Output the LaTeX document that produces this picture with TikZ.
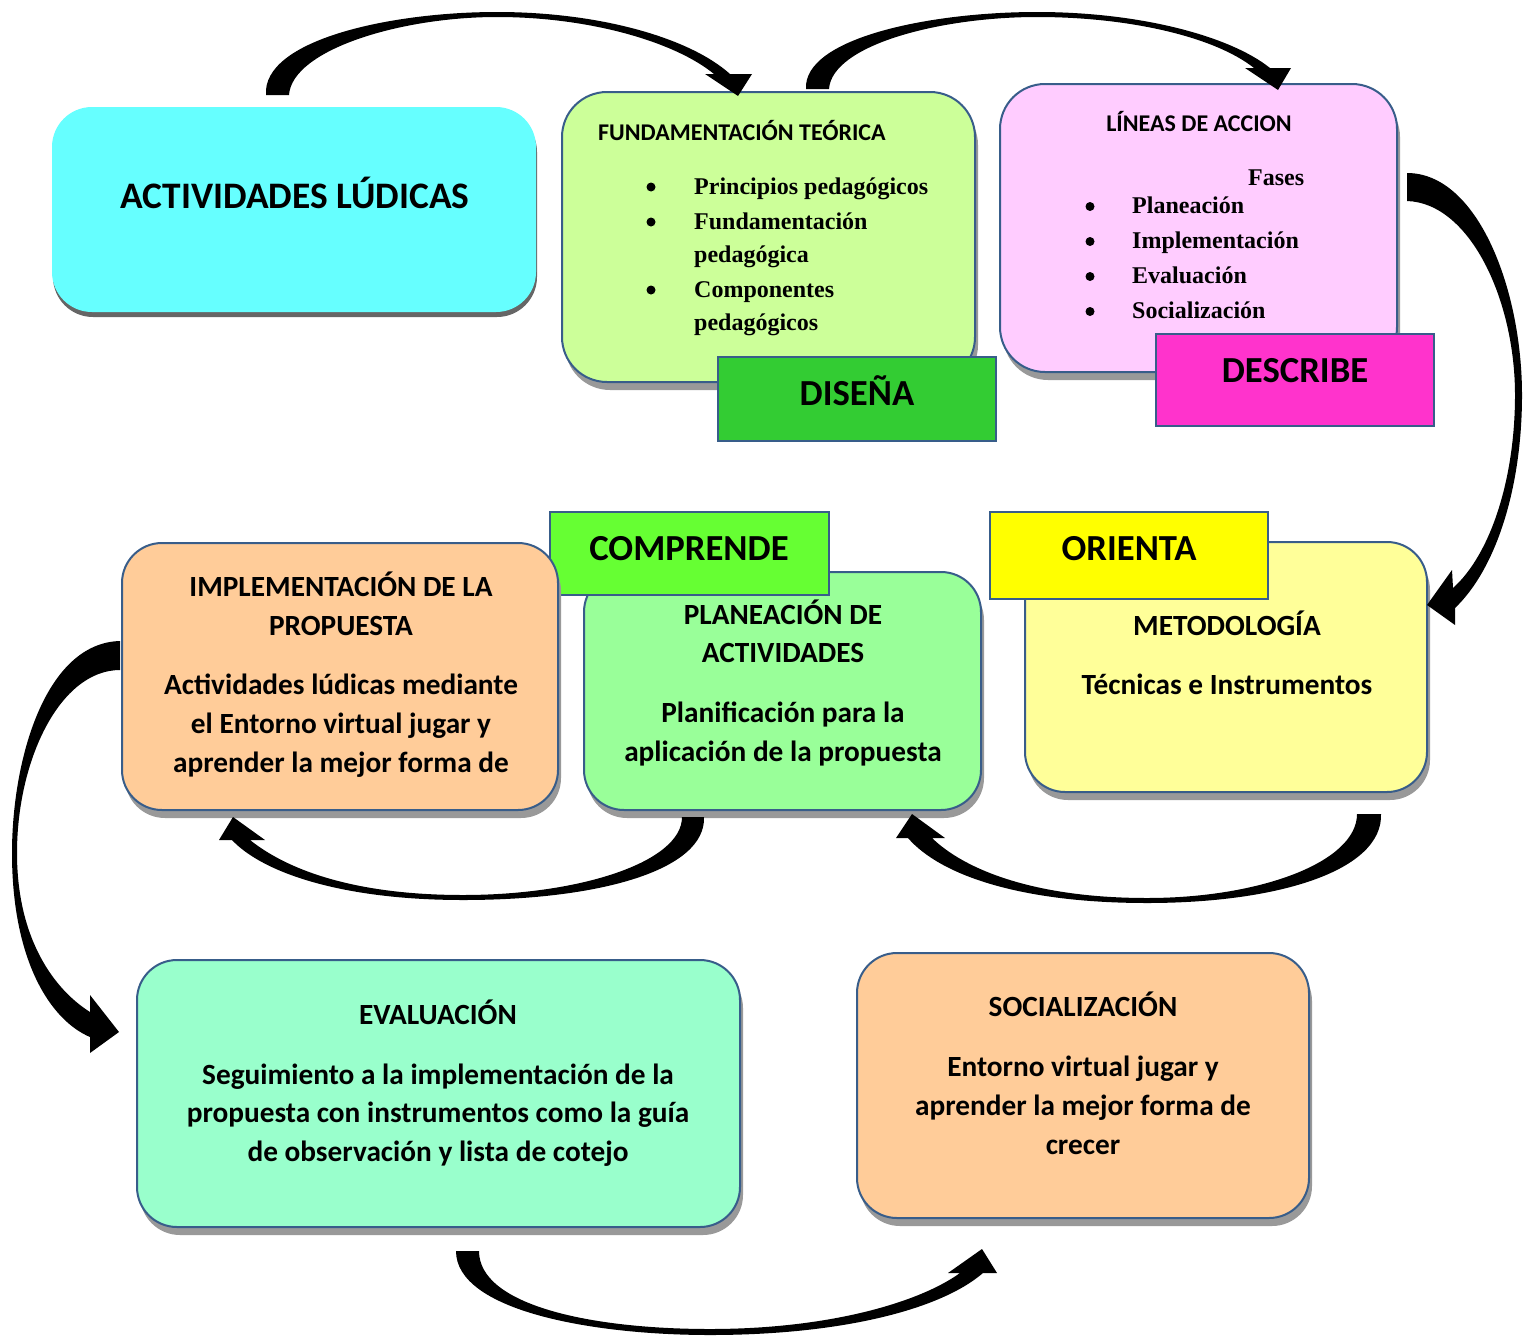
\documentclass[tikz,border=0pt]{standalone}
\usepackage{fontspec}
\setmainfont{Liberation Serif}
\newfontfamily\carl{Carlito}
\usetikzlibrary{shadows}
\definecolor{bord}{RGB}{56,93,138}
\definecolor{shadowgray}{RGB}{153,153,153}
\definecolor{cyanf}{HTML}{66FFFF}
\definecolor{fundf}{HTML}{CCFF99}
\definecolor{linf}{HTML}{FFCCFF}
\definecolor{disf}{HTML}{33CC33}
\definecolor{desf}{HTML}{FF33CC}
\definecolor{impf}{HTML}{FFCC99}
\definecolor{plaf}{HTML}{99FF99}
\definecolor{compf}{HTML}{66FF33}
\definecolor{metf}{HTML}{FFFF99}
\definecolor{orif}{HTML}{FFFF00}
\definecolor{evaf}{HTML}{99FFCC}
\definecolor{socf}{HTML}{FFCC99}
\begin{document}
\begin{tikzpicture}[x=1pt,y=-1pt,
  box/.style={draw=bord, line width=2pt, rounded corners=40pt, inner sep=0pt,
    drop shadow={shadow xshift=3pt, shadow yshift=-8pt, fill=shadowgray, opacity=1}},
  tagbox/.style={draw=bord, line width=2pt, inner sep=0pt},
  sb/.style={font=\carl\bfseries\fontsize{29.3}{35}\selectfont, anchor=base, inner sep=0pt},
  hd/.style={font=\carl\bfseries\fontsize{24}{29}\selectfont, anchor=base, inner sep=0pt},
  big/.style={font=\carl\bfseries\fontsize{36.7}{44}\selectfont, anchor=base, inner sep=0pt},
  sr/.style={font=\bfseries\fontsize{24}{29}\selectfont, anchor=base west, inner sep=0pt},
  dot/.style={circle, fill=black, draw=none, inner sep=0pt, minimum size=9pt},
  arr/.style={fill=black, draw=none}
]
\useasboundingbox (0,0) rectangle (1531,1336);

% ---------- boxes ----------
\node[rounded corners=40pt, inner sep=0pt, fill=cyanf, minimum width=484pt, minimum height=205pt,
  drop shadow={shadow xshift=1pt, shadow yshift=-5pt, fill=black!60, opacity=1}] (act) at (294,209.5) {};

\node[box, fill=fundf, rounded corners=45pt, minimum width=413pt, minimum height=290pt] (fund) at (768.5,237) {};
\node[tagbox, fill=disf, minimum width=278pt, minimum height=84pt] (dis) at (857,399) {};

\node[box, fill=linf, rounded corners=45pt, minimum width=397pt, minimum height=288pt] (lin) at (1198.5,228) {};
\node[tagbox, fill=desf, minimum width=278pt, minimum height=92pt] (des) at (1295,380) {};

\node[box, fill=plaf, minimum width=397pt, minimum height=238pt] (pla) at (782.5,691) {};
\node[tagbox, fill=compf, minimum width=279pt, minimum height=83pt] (comp) at (689.5,553.5) {};
\node[box, fill=impf, minimum width=436pt, minimum height=267pt] (imp) at (340,676.5) {};

\node[box, fill=metf, minimum width=402pt, minimum height=250pt] (met) at (1226,667) {};
\node[tagbox, fill=orif, minimum width=278pt, minimum height=87pt] (ori) at (1129,555.5) {};

\node[box, fill=evaf, minimum width=603pt, minimum height=267pt] (eva) at (438.5,1093.5) {};
\node[box, fill=socf, minimum width=452pt, minimum height=265pt] (soc) at (1083,1085.5) {};

% ---------- texts ----------
\node[big, font=\carl\bfseries\fontsize{37.4}{44}\selectfont] (t-act) at (295,208) {ACTIVIDADES LÚDICAS};

\node[hd, anchor=base west] (t-fund) at (598,140) {FUNDAMENTACIÓN TEÓRICA};
\node[dot] (fb1) at (651,187) {};
\node[dot] (fb2) at (651,222) {};
\node[dot] (fb3) at (651,290) {};
\node[sr] (fi1) at (694,194) {Principios pedagógicos};
\node[sr] (fi2) at (694,229) {Fundamentación};
\node[sr] (fi2b) at (694,262) {pedagógica};
\node[sr] (fi3) at (694,297) {Componentes};
\node[sr] (fi3b) at (694,330) {pedagógicos};

\node[hd] (t-lin) at (1199,131) {LÍNEAS DE ACCION};
\node[sr] (fases) at (1248,185) {Fases};
\node[dot] (lb1) at (1090,206.5) {};
\node[dot] (lb2) at (1090,241.5) {};
\node[dot] (lb3) at (1090,276.5) {};
\node[dot] (lb4) at (1090,311.5) {};
\node[sr] (li1) at (1132,213) {Planeación};
\node[sr] (li2) at (1132,248) {Implementación};
\node[sr] (li3) at (1132,283) {Evaluación};
\node[sr] (li4) at (1132,318) {Socialización};

\node[big] (t-dis) at (857,405) {DISEÑA};
\node[big] (t-des) at (1295,382) {DESCRIBE};
\node[big] (t-comp) at (689,560) {COMPRENDE};
\node[big] (t-ori) at (1129,560) {ORIENTA};

\node[sb] (imp1) at (341,596) {IMPLEMENTACIÓN DE LA};
\node[sb] (imp2) at (341,635) {PROPUESTA};
\node[sb] (imp3) at (341,694) {Actividades lúdicas mediante};
\node[sb] (imp4) at (341,733) {el Entorno virtual jugar y};
\node[sb] (imp5) at (341,772) {aprender la mejor forma de};

\node[sb] (pla1) at (783,624) {PLANEACIÓN DE};
\node[sb] (pla2) at (783,662) {ACTIVIDADES};
\node[sb] (pla3) at (783,722) {Planificación para la};
\node[sb] (pla4) at (783,761) {aplicación de la propuesta};

\node[sb] (met1) at (1227,635) {METODOLOGÍA};
\node[sb] (met2) at (1227,694) {Técnicas e Instrumentos};

\node[sb] (eva1) at (438,1024) {EVALUACIÓN};
\node[sb] (eva2) at (438,1084) {Seguimiento a la implementación de la};
\node[sb] (eva3) at (438,1122) {propuesta con instrumentos como la guía};
\node[sb] (eva4) at (438,1161) {de observación y lista de cotejo};

\node[sb] (soc1) at (1083,1016) {SOCIALIZACIÓN};
\node[sb] (soc2) at (1083,1076) {Entorno virtual jugar y};
\node[sb] (soc3) at (1083,1115) {aprender la mejor forma de};
\node[sb] (soc4) at (1083,1154) {crecer};

% ---------- curved block arrows ----------
% act -> fund
\fill[arr] (266,95) .. controls (262,40) and (390,12) .. (497,12)
  .. controls (600,12) and (690,38) .. (730,74)
  -- (752,74) -- (738,96) -- (705,74) -- (714,74)
  .. controls (675,42) and (590,17) .. (497,17)
  .. controls (400,17) and (292,50) .. (289,95) -- cycle;
% fund -> lin
\fill[arr] (806,89) .. controls (803,38) and (930,12) .. (1037,12)
  .. controls (1140,12) and (1230,36) .. (1270,68)
  -- (1291,68) -- (1278,90) -- (1245,68) -- (1254,68)
  .. controls (1215,37) and (1130,17) .. (1037,17)
  .. controls (940,17) and (832,45) .. (829,89) -- cycle;
% lin -> met
\fill[arr] (1407,173) .. controls (1478,173) and (1522,290) .. (1522,395)
  .. controls (1522,490) and (1495,570) .. (1455,608)
  -- (1455,625) -- (1427,605) -- (1452,570) -- (1453,588)
  .. controls (1490,555) and (1515,480) .. (1515,395)
  .. controls (1515,300) and (1470,203) .. (1407,201) -- cycle;
% met -> pla
\fill[arr] (1381,814) .. controls (1383,870) and (1280,903) .. (1147,903)
  .. controls (1020,903) and (940,875) .. (908,838)
  -- (896,838) -- (912,814) -- (945,838) -- (932,838)
  .. controls (965,870) and (1035,898) .. (1147,898)
  .. controls (1260,898) and (1357,862) .. (1357,814) -- cycle;
% pla -> imp
\fill[arr] (704,817) .. controls (706,870) and (600,900) .. (463,900)
  .. controls (340,900) and (262,872) .. (232,840)
  -- (219,840) -- (233,817) -- (265,840) -- (250,840)
  .. controls (285,868) and (350,895) .. (463,895)
  .. controls (580,895) and (682,862) .. (682,817) -- cycle;
% imp -> eva
\fill[arr] (120,641) .. controls (45,643) and (12,760) .. (12,853)
  .. controls (12,960) and (50,1020) .. (90,1037)
  -- (90,1053) -- (119,1032) -- (90,995) -- (90,1012)
  .. controls (55,990) and (17,940) .. (17,853)
  .. controls (17,760) and (60,670) .. (120,670) -- cycle;
% eva -> soc
\fill[arr] (456,1251) .. controls (456,1310) and (590,1335) .. (710,1335)
  .. controls (840,1335) and (940,1310) .. (983,1273)
  -- (997,1273) -- (982,1249) -- (948,1273) -- (960,1273)
  .. controls (920,1302) and (830,1329) .. (710,1329)
  .. controls (590,1329) and (479,1305) .. (479,1251) -- cycle;
\end{tikzpicture}
\end{document}
